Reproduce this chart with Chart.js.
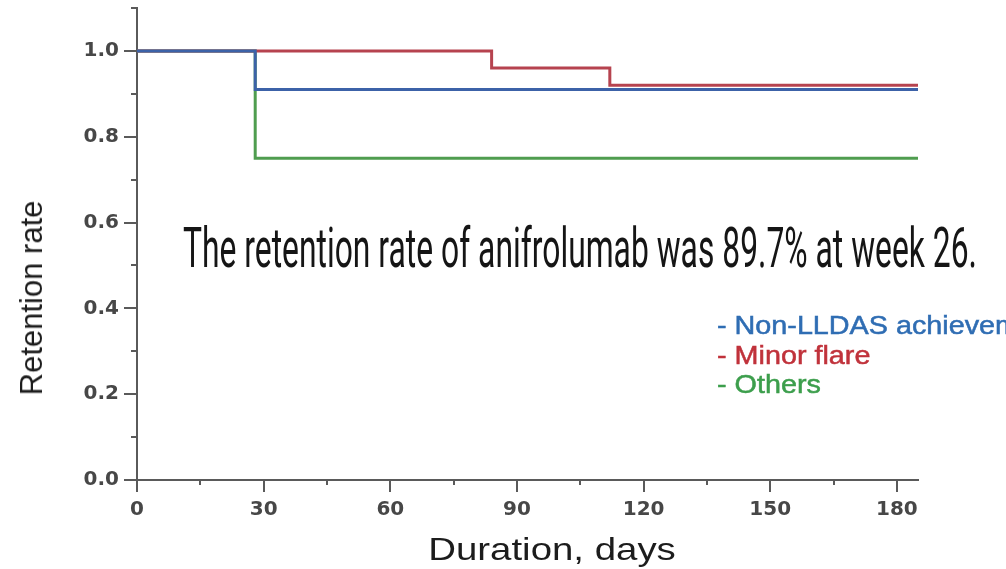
<!DOCTYPE html>
<html>
<head>
<meta charset="utf-8">
<script src="https://cdn.jsdelivr.net/npm/chart.js@4/dist/chart.umd.min.js"></script>
<style>
  html, body { margin: 0; padding: 0; background: #ffffff; overflow: hidden; }
  #wrap { position: relative; width: 1006px; height: 569px; overflow: hidden; }
  canvas { position: absolute; left: 0; top: 0; }
  .ov { position: absolute; white-space: nowrap; font-family: "Liberation Sans", Arial, sans-serif; }
  #note { left: 183px; top: 220px; font-family: Roboto, "Liberation Sans", sans-serif;
          font-size: 56px; line-height: 56px; color: #151515; transform-origin: 0 0; display: inline-block; }
  #legend { left: 717px; top: 311px; font-size: 25px; line-height: 29.5px; transform: scaleX(1.15); transform-origin: 0 0;
            -webkit-text-stroke: 0.5px currentColor; }
  #xtitle { left: 552px; top: 549px; font-size: 32px; color: #1c1c1c; transform: translate(-50%, -50%) scaleX(1.2); }
  #ytitle { left: 32px; top: 298px; font-size: 31px; color: #1c1c1c; transform: translate(-50%, -50%) rotate(-90deg); }
</style>
</head>
<body>
<div id="wrap">
  <canvas id="c" width="1006" height="569"></canvas>
  <div class="ov" id="note"></div>
  <div class="ov" id="legend"></div>
  <div class="ov" id="xtitle"></div>
  <div class="ov" id="ytitle"></div>
</div>
<script>
// ---- data ----
const seriesNames = ["Non-LLDAS achievement", "Minor flare", "Others"];
const nonLldasDays = [0, 28, 185];
const nonLldasRate = [1.0, 0.91, 0.91];
const minorFlareDays = [0, 84, 112, 185];
const minorFlareRate = [1.0, 0.96, 0.92, 0.92];
const othersDays = [0, 28, 185];
const othersRate = [1.0, 0.75, 0.75];
const xMajorTicks = [0, 30, 60, 90, 120, 150, 180];
const xMinorTicks = [15, 45, 75, 105, 135, 165];
const yMajorTicks = [0.0, 0.2, 0.4, 0.6, 0.8, 1.0];
const yMinorTicks = [0.1, 0.3, 0.5, 0.7, 0.9, 1.1];
const xAxisTitle = "Duration, days";
const yAxisTitle = "Retention rate";
const noteText = "The retention rate of anifrolumab was 89.7% at week 26.";

// ---- styles ----
const lineColors = ["#3c62a8", "#b6434f", "#4f9d4f"];
const legendColors = ["#2f6db3", "#c0323b", "#3c9e4c"];
const axisColor = "#5a5a5a";

function pts(xs, ys) { return xs.map((x, i) => ({ x: x, y: ys[i] })); }

const minorTicksPlugin = {
  id: 'minorTicks',
  afterDraw(chart) {
    const ctx = chart.ctx, xs = chart.scales.x, ys = chart.scales.y;
    const ca = chart.chartArea;
    ctx.save();
    ctx.strokeStyle = axisColor;
    ctx.lineWidth = 2;
    ctx.beginPath();
    xMinorTicks.forEach(v => { const p = Math.round(xs.getPixelForValue(v)); ctx.moveTo(p, ca.bottom); ctx.lineTo(p, ca.bottom + 5); });
    yMinorTicks.forEach(v => { const p = Math.round(ys.getPixelForValue(v)); ctx.moveTo(ca.left, p); ctx.lineTo(ca.left - 6, p); });
    ctx.stroke();
    ctx.restore();
  }
};

const tickFont = { family: "'DejaVu Sans', sans-serif", size: 20, weight: 'bold' };

new Chart(document.getElementById('c'), {
  type: 'scatter',
  data: {
    datasets: [
      { label: seriesNames[0], data: pts(nonLldasDays, nonLldasRate), borderColor: lineColors[0] },
      { label: seriesNames[1], data: pts(minorFlareDays, minorFlareRate), borderColor: lineColors[1] },
      { label: seriesNames[2], data: pts(othersDays, othersRate), borderColor: lineColors[2] }
    ].map(d => Object.assign(d, { showLine: true, stepped: true, borderWidth: 3, pointRadius: 0, fill: false }))
  },
  options: {
    responsive: false,
    devicePixelRatio: 1,
    animation: false,
    layout: { padding: { left: 0, right: 88, top: 8, bottom: 0 } },
    plugins: { legend: { display: false }, tooltip: { enabled: false } },
    scales: {
      x: {
        type: 'linear', min: 0, max: 185,
        afterBuildTicks: s => { s.ticks = xMajorTicks.map(v => ({ value: v })); },
        afterFit: s => { s.height = 89; s.paddingLeft = 0; s.paddingRight = 0; },
        grid: { drawOnChartArea: false, drawTicks: true, tickLength: 12, color: axisColor, lineWidth: 2 },
        border: { display: true, color: axisColor, width: 2 },
        ticks: { color: '#474747', font: tickFont, padding: 6, maxRotation: 0 }
      },
      y: {
        type: 'linear', min: 0, max: 1.1,
        afterBuildTicks: s => { s.ticks = yMajorTicks.map(v => ({ value: v })); },
        afterFit: s => { s.width = 137; s.paddingTop = 0; s.paddingBottom = 0; },
        grid: { drawOnChartArea: false, drawTicks: true, tickLength: 13, color: axisColor, lineWidth: 2 },
        border: { display: true, color: axisColor, width: 2 },
        ticks: { color: '#474747', font: tickFont, padding: 5, callback: v => Number(v).toFixed(1) }
      }
    }
  },
  plugins: [minorTicksPlugin]
});

// ---- overlays ----
const note = document.getElementById('note');
note.textContent = noteText;
const w = note.getBoundingClientRect().width;
note.style.transform = 'scaleX(' + (794 / w) + ')';

const legend = document.getElementById('legend');
seriesNames.forEach((n, i) => {
  const d = document.createElement('div');
  d.textContent = '- ' + n;
  d.style.color = legendColors[i];
  legend.appendChild(d);
});
document.getElementById('xtitle').textContent = xAxisTitle;
document.getElementById('ytitle').textContent = yAxisTitle;
</script>
</body>
</html>
